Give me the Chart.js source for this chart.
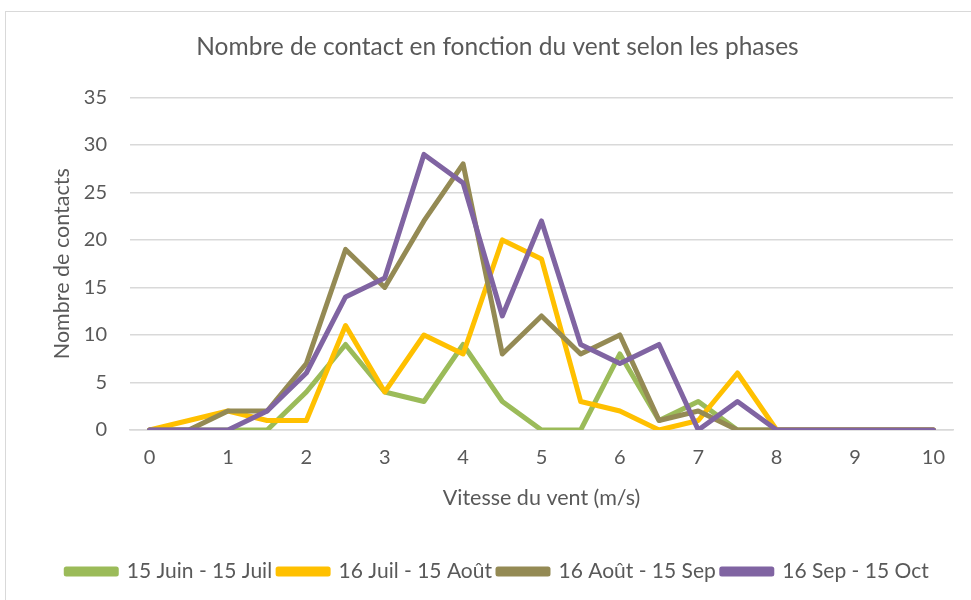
<!DOCTYPE html>
<html>
<head>
<meta charset="utf-8">
<style>
  html, body { margin: 0; padding: 0; background: #fff; }
  #wrap { width: 971px; height: 600px; position: relative; }
</style>
<script src="https://cdn.jsdelivr.net/npm/chart.js@4/dist/chart.umd.min.js"></script>
</head>
<body>
<div id="wrap"><canvas id="windChart" width="971" height="600"></canvas></div>
<script>
// Wind speed categories (m/s), every half unit
const vitesses = ["0", "0.5", "1", "1.5", "2", "2.5", "3", "3.5", "4", "4.5", "5",
  "5.5", "6", "6.5", "7", "7.5", "8", "8.5", "9", "9.5", "10"];

// Contacts per phase
const juinJuil = [0, 0, 0, 0, 4, 9, 4, 3, 9, 3, 0, 0, 8, 1, 3, 0, 0, 0, 0, 0, 0];
const juilAout = [0, 1, 2, 1, 1, 11, 4, 10, 8, 20, 18, 3, 2, 0, 1, 6, 0, 0, 0, 0, 0];
const aoutSep = [0, 0, 2, 2, 7, 19, 15, 22, 28, 8, 12, 8, 10, 1, 2, 0, 0, 0, 0, 0, 0];
const sepOct = [0, 0, 0, 2, 6, 14, 16, 29, 26, 12, 22, 9, 7, 9, 0, 3, 0, 0, 0, 0, 0];

const textColor = "#595959";
const fontFamily = "Lato, 'Open Sans', sans-serif";

// Light frame around the whole chart, like the Excel chart area
const framePlugin = {
  id: "frame",
  beforeDraw(chart) {
    const c = chart.ctx;
    c.save();
    c.strokeStyle = "#d9d9d9";
    c.lineWidth = 1;
    c.strokeRect(5.5, 11.5, chart.width, chart.height);
    c.restore();
  },
};

function serie(label, data, color, order) {
  return {
    label: label,
    data: data,
    borderColor: color,
    backgroundColor: color,
    borderWidth: 5,
    pointRadius: 0,
    tension: 0,
    borderJoinStyle: "round",
    borderCapStyle: "round",
    order: order, // later phases drawn on top
  };
}

const ctx = document.getElementById("windChart").getContext("2d");
new Chart(ctx, {
  type: "line",
  data: {
    labels: vitesses,
    datasets: [
      serie("15 Juin - 15 Juil", juinJuil, "#9BBB59", 3),
      serie("16 Juil - 15 Août", juilAout, "#FFC000", 2),
      serie("16 Août - 15 Sep", aoutSep, "#948A54", 1),
      serie("16 Sep - 15 Oct", sepOct, "#8064A2", 0),
    ],
  },
  options: {
    responsive: false,
    animation: false,
    layout: { padding: { top: 32, right: 18, bottom: 8, left: 42 } },
    plugins: {
      title: {
        display: true,
        text: "Nombre de contact en fonction du vent selon les phases",
        color: textColor,
        font: { family: fontFamily, size: 24.5, weight: "normal" },
        padding: { top: 0, bottom: 36 },
      },
      legend: {
        display: true,
        position: "bottom",
        labels: {
          sort: (a, b) => a.datasetIndex - b.datasetIndex,
          color: textColor,
          font: { family: fontFamily, size: 21 },
          boxWidth: 50,
          boxHeight: 5,
          padding: 6,
        },
      },
      tooltip: { enabled: false },
    },
    scales: {
      x: {
        offset: true,
        grid: { display: false, drawTicks: false },
        border: { color: "#d9d9d9", width: 1.5 },
        afterFit: (scale) => { scale.height = 125; },
        ticks: {
          color: textColor,
          font: { family: fontFamily, size: 20 },
          autoSkip: false,
          maxRotation: 0,
          padding: 16,
          callback: function (value, index) {
            return index % 2 === 0 ? this.getLabelForValue(value) : "";
          },
        },
        title: {
          display: true,
          text: "Vitesse du vent (m/s)",
          color: textColor,
          font: { family: fontFamily, size: 21.5 },
          padding: { top: 15, bottom: 44 },
        },
      },
      y: {
        min: 0,
        max: 35,
        afterFit: (scale) => { scale.width = 88; },
        ticks: {
          stepSize: 5,
          color: textColor,
          font: { family: fontFamily, size: 20 },
          padding: 23,
        },
        grid: { color: "#d9d9d9", lineWidth: 1.5, drawTicks: false },
        border: { display: false },
        title: {
          display: true,
          text: "Nombre de contacts",
          color: textColor,
          font: { family: fontFamily, size: 21.5 },
          padding: { top: 7, bottom: 0 },
        },
      },
    },
  },
  plugins: [framePlugin],
});
</script>
</body>
</html>
